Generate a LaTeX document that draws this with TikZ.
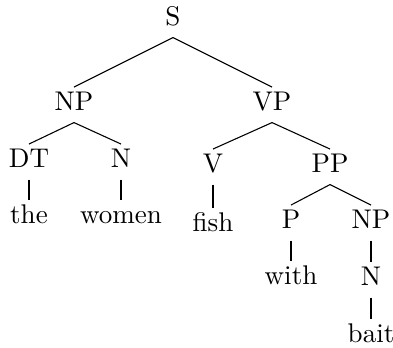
\documentclass[tikz,border=0pt]{standalone}
\begin{document}
\begin{tikzpicture}[x=0.37pt,y=-0.37pt,
  tn/.style={anchor=base,inner sep=0pt,text height=8.3pt,text depth=4.45pt},
  edge/.style={line width=0.4pt}]
\useasboundingbox (0,0) rectangle (393,347);
\node[tn] (S) at (173,25) {S};
\node[tn] (NP) at (74,110) {NP};
\node[tn] (VP) at (272,110) {VP};
\node[tn] (DT) at (29,167) {DT};
\node[tn] (N) at (121,167) {N};
\node[tn] (V) at (213,172) {V};
\node[tn] (PP) at (330,172) {PP};
\node[tn] (the) at (29,223) {the};
\node[tn] (women) at (121,223) {women};
\node[tn] (fish) at (213,231) {fish};
\node[tn] (P) at (291,228) {P};
\node[tn] (NPb) at (371,228) {NP};
\node[tn] (with) at (291,284) {with};
\node[tn] (Nb) at (371,285) {N};
\node[tn] (bait) at (371,342) {bait};
\draw[edge] (S.south) -- (NP.north);
\draw[edge] (S.south) -- (VP.north);
\draw[edge] (NP.south) -- (DT.north);
\draw[edge] (NP.south) -- (N.north);
\draw[edge] (VP.south) -- (V.north);
\draw[edge] (VP.south) -- (PP.north);
\draw[edge] (DT.south) -- (the.north);
\draw[edge] (N.south) -- (women.north);
\draw[edge] (V.south) -- (fish.north);
\draw[edge] (PP.south) -- (P.north);
\draw[edge] (PP.south) -- (NPb.north);
\draw[edge] (P.south) -- (with.north);
\draw[edge] (NPb.south) -- (Nb.north);
\draw[edge] (Nb.south) -- (bait.north);
\end{tikzpicture}
\end{document}
